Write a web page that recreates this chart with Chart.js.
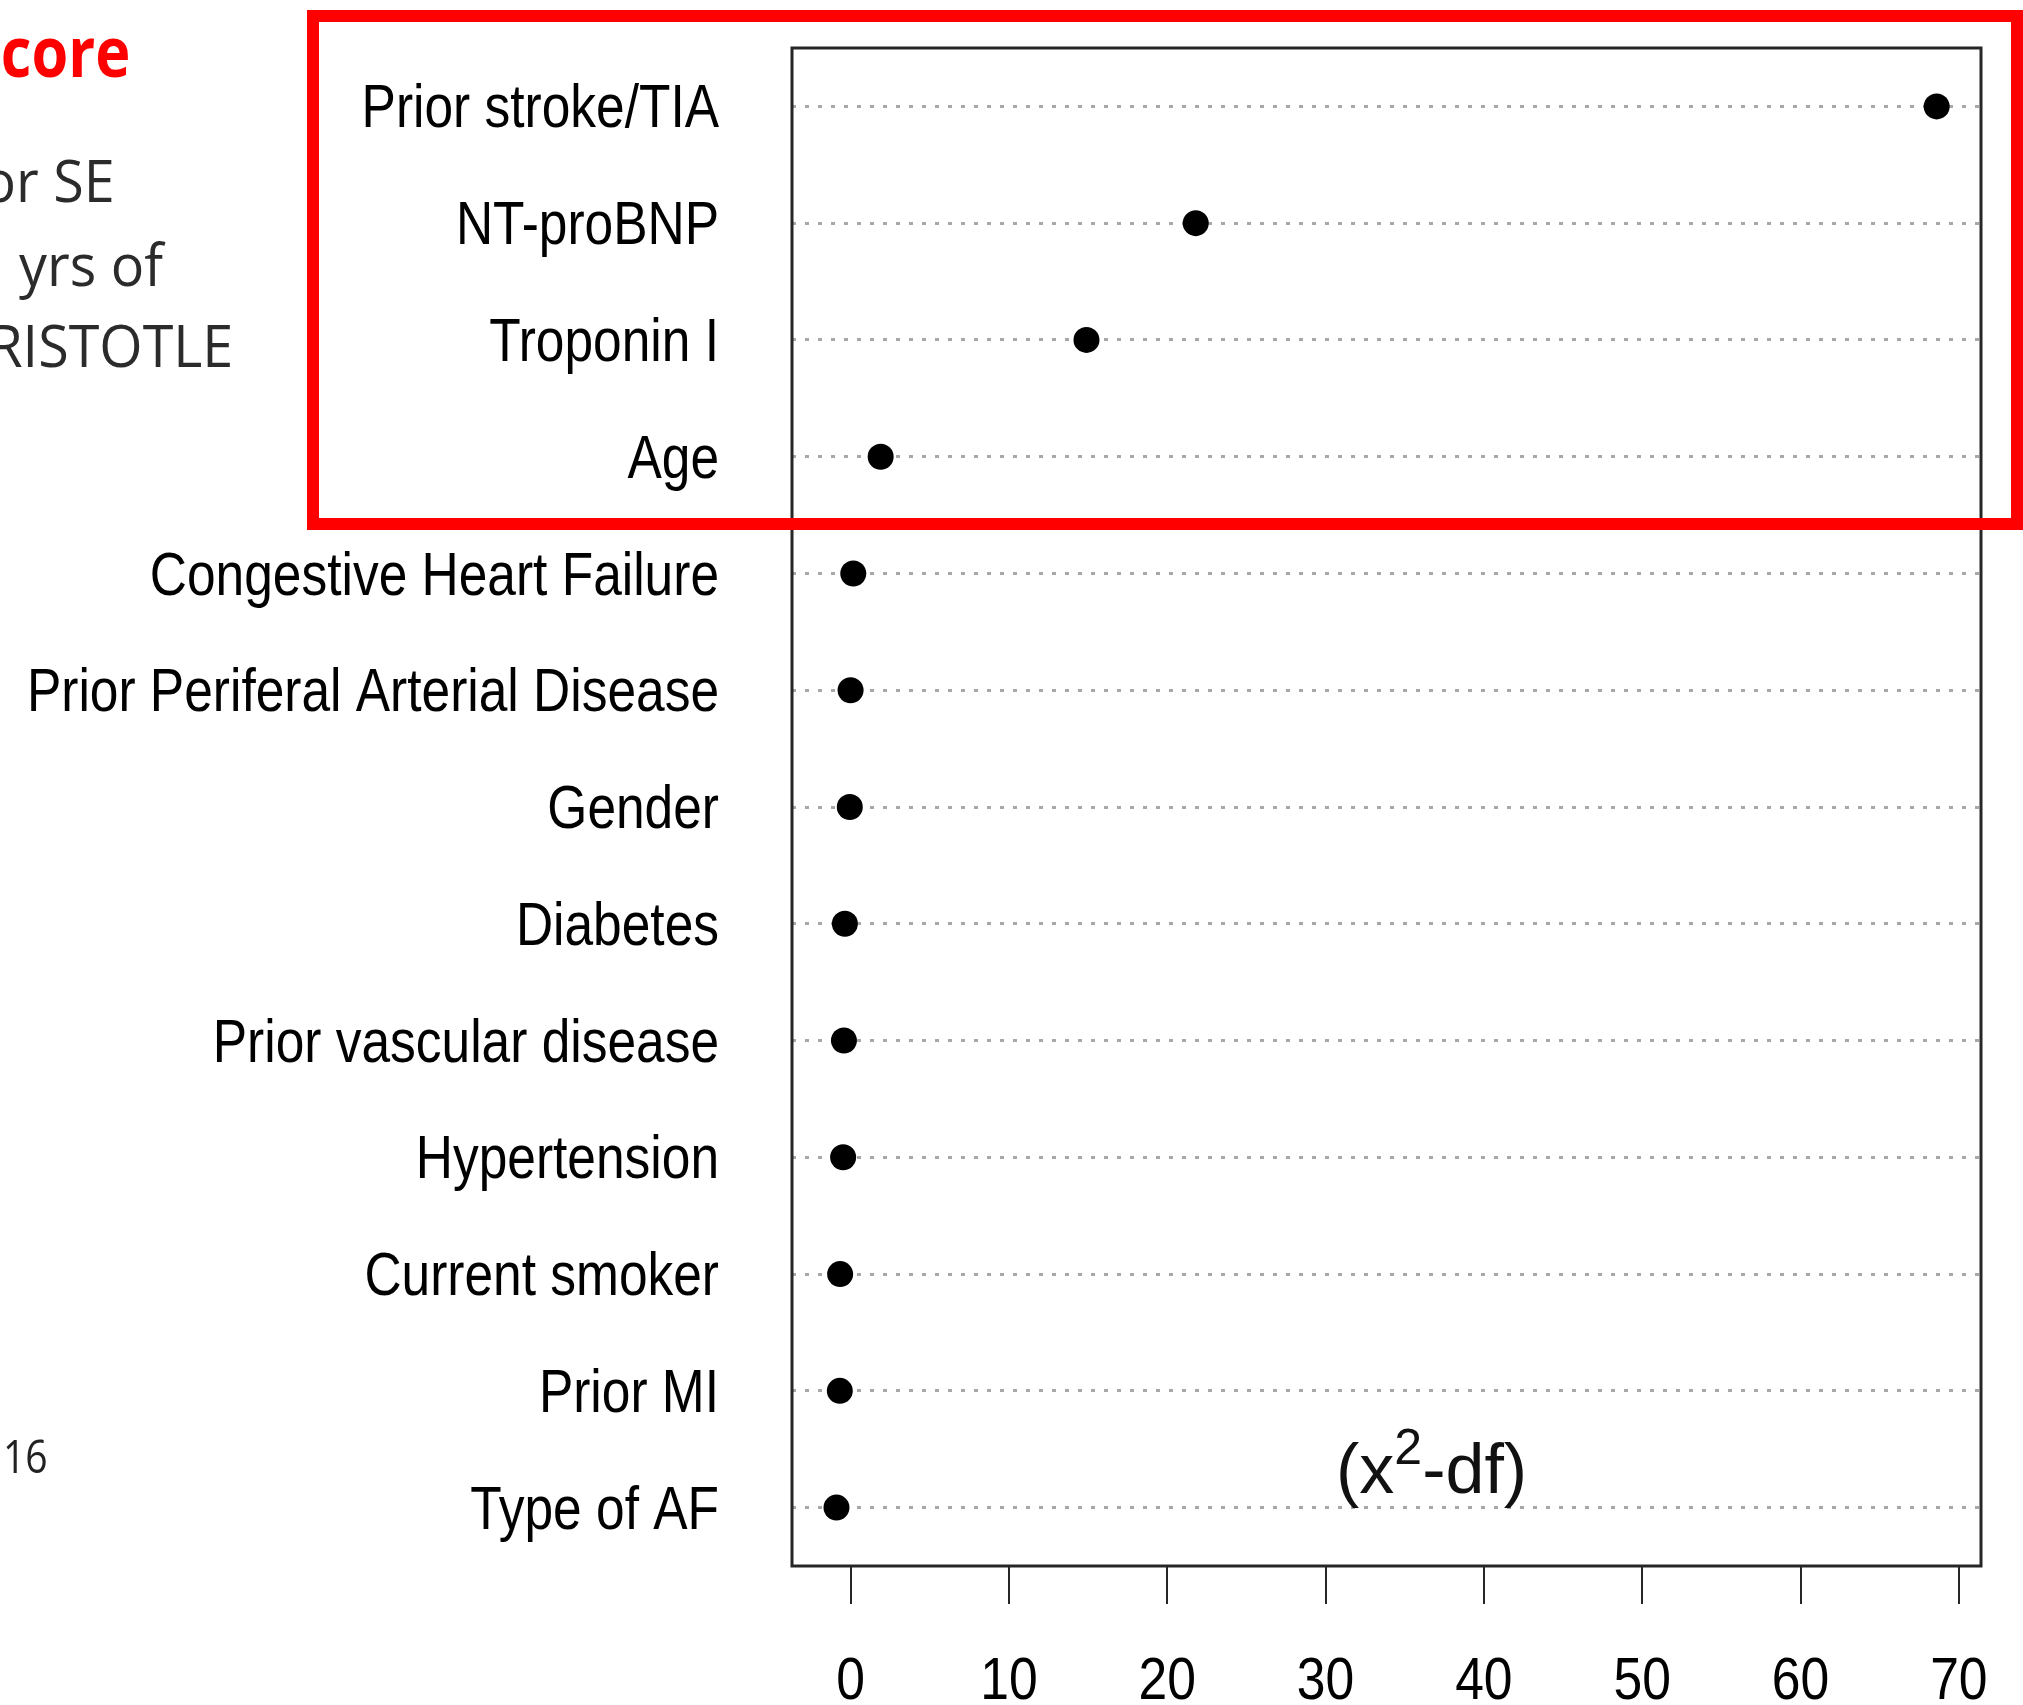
<!DOCTYPE html>
<html>
<head>
<meta charset="utf-8">
<title>Predictor importance</title>
<script src="https://cdn.jsdelivr.net/npm/chart.js@4.4.0/dist/chart.umd.min.js"></script>
<style>
  html, body { margin: 0; padding: 0; background: #fff; overflow: hidden; }
  #wrap { position: relative; width: 2023px; height: 1705px; }
  #chart { position: absolute; left: 0; top: 0; }
  .slide {
    position: absolute;
    font-family: 'Open Sans', sans-serif;
    color: #2b2b2b;
    white-space: nowrap;
    transform: scaleX(0.96);
    transform-origin: right center;
  }
  .title { color: #ff0000; font-weight: bold; font-size: 70px; line-height: 70px; transform: scaleX(0.85); }
  .body { font-size: 58px; line-height: 58px; }
  .note { font-size: 46px; line-height: 46px; color: #222; transform: scaleX(0.85); }
  #highlight {
    position: absolute; left: 307px; top: 10px; width: 1716px; height: 520px;
    box-sizing: border-box; border: 12px solid #ff0000; pointer-events: none;
  }
</style>
</head>
<body>
<div id="wrap">
  <canvas id="chart" width="2023" height="1705"></canvas>
  <div class="slide title" style="right:1893px; top:15px;">core</div>
  <div class="slide body" style="right:1908px; top:151px;">or SE</div>
  <div class="slide body" style="right:1860px; top:235px;">yrs of</div>
  <div class="slide body" style="right:1790px; top:316px;">RISTOTLE</div>
  <div class="slide note" style="right:1975px; top:1432px;">16</div>
  <div id="highlight"></div>
</div>
<script>
// predictors, top to bottom
const categories = [
  'Prior stroke/TIA',
  'NT-proBNP',
  'Troponin I',
  'Age',
  'Congestive Heart Failure',
  'Prior Periferal Arterial Disease',
  'Gender',
  'Diabetes',
  'Prior vascular disease',
  'Hypertension',
  'Current smoker',
  'Prior MI',
  'Type of AF'
];
// chi-square minus degrees of freedom
const chiSqMinusDf = [68.6, 21.8, 14.9, 1.9, 0.17, 0.0, -0.05, -0.36, -0.42, -0.47, -0.66, -0.68, -0.89];
const xTicks = [0, 10, 20, 30, 40, 50, 60, 70];
const xMin = -3.7;
const xMax = 71.4;
// where the axis note sits, in data units
const noteX = 36.7;
const noteRow = 12.71;

const labelFont = "'Liberation Sans', Arial, sans-serif";

const points = chiSqMinusDf.map((v, i) => ({ x: v, y: i + 1 }));

// draw a scale's tick labels squeezed horizontally (narrow Helvetica look)
function narrowLabels(axis, factor, dy) {
  axis.drawLabels = function (chartArea) {
    const ctx = this.ctx;
    for (const item of this.getLabelItems(chartArea)) {
      const o = item.options;
      ctx.save();
      ctx.translate(o.translation[0], o.translation[1] + dy);
      ctx.scale(factor, 1);
      ctx.font = item.font.string;
      ctx.fillStyle = o.color;
      ctx.textAlign = o.textAlign;
      ctx.textBaseline = o.textBaseline;
      ctx.fillText(item.label, 0, item.textOffset);
      ctx.restore();
    }
  };
}

const frame = {
  id: 'frame',
  afterDraw(chart) {
    const { ctx, chartArea: a, scales } = chart;
    ctx.save();
    ctx.strokeStyle = '#262626';
    ctx.lineWidth = 3;
    ctx.strokeRect(a.left, a.top, a.right - a.left, a.bottom - a.top);

    // (x²-df) note with a raised 2
    const big = '70px ' + labelFont;
    const small = '50px ' + labelFont;
    const parts = [['(x', big, 0], ['2', small, -24], ['-df)', big, 0]];
    let total = 0;
    parts.forEach(p => { ctx.font = p[1]; total += ctx.measureText(p[0]).width; });
    let x = scales.x.getPixelForValue(noteX) - total / 2;
    const y = scales.y.getPixelForValue(noteRow);
    ctx.fillStyle = '#111';
    ctx.textBaseline = 'middle';
    ctx.textAlign = 'left';
    parts.forEach(p => {
      ctx.font = p[1];
      ctx.fillText(p[0], x, y + p[2]);
      x += ctx.measureText(p[0]).width;
    });
    ctx.restore();
  }
};

new Chart(document.getElementById('chart'), {
  type: 'scatter',
  data: {
    datasets: [{
      data: points,
      pointRadius: 13,
      pointHoverRadius: 13,
      pointBackgroundColor: '#000',
      pointBorderWidth: 0,
      showLine: false
    }]
  },
  options: {
    responsive: false,
    animation: false,
    layout: { padding: { top: 48, right: 42, left: 0, bottom: 0 } },
    plugins: { legend: { display: false }, tooltip: { enabled: false } },
    scales: {
      x: {
        type: 'linear',
        min: xMin,
        max: xMax,
        afterBuildTicks: axis => { axis.ticks = xTicks.map(v => ({ value: v })); },
        afterFit: axis => {
          axis.height = 139;
          axis.paddingLeft = 0;
          axis.paddingRight = 0;
          narrowLabels(axis, 0.86, 0);
        },
        grid: { drawOnChartArea: false, drawTicks: true, tickLength: 38, color: '#262626', lineWidth: 2 },
        border: { display: false },
        ticks: { padding: 42, color: '#000', font: { family: labelFont, size: 60 } }
      },
      y: {
        type: 'linear',
        min: 0.5,
        max: categories.length + 0.5,
        reverse: true,
        afterBuildTicks: axis => { axis.ticks = categories.map((c, i) => ({ value: i + 1 })); },
        afterFit: axis => {
          axis.width = 792;
          axis.paddingTop = 0;
          axis.paddingBottom = 0;
          narrowLabels(axis, 0.83, 4);
        },
        grid: { drawTicks: false, color: '#a8a8a8', lineWidth: 3 },
        border: { display: false, dash: [4, 9] },
        ticks: {
          padding: 73,
          color: '#000',
          font: { family: labelFont, size: 62 },
          callback: v => categories[v - 1]
        }
      }
    }
  },
  plugins: [frame]
});
</script>
</body>
</html>
